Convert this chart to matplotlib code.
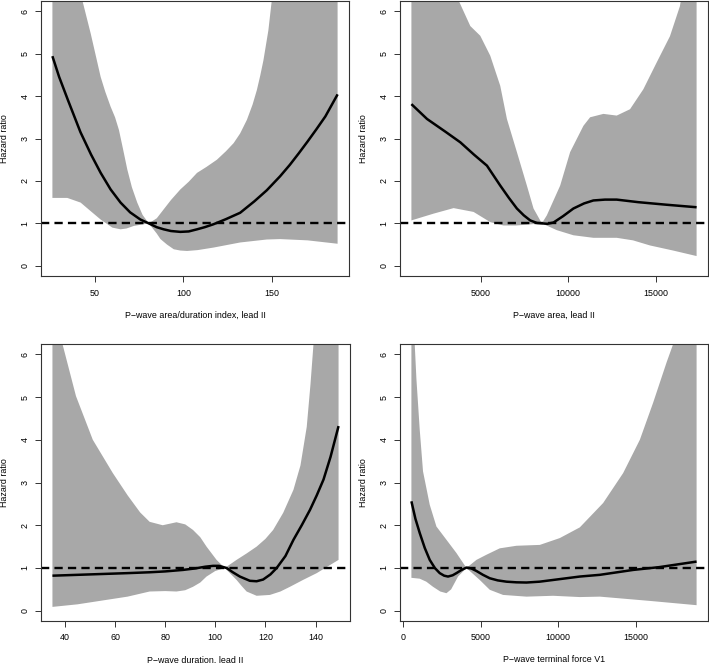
import matplotlib
matplotlib.use("Agg")
import matplotlib.pyplot as plt

plt.rcParams["font.family"] = ["Liberation Sans", "DejaVu Sans"]

# ---- panel 1: P-wave area/duration index, lead II
p1_x = [26.2, 30, 35, 42, 48, 53.4, 59, 64.6, 70, 75.8, 80.5, 85, 88.9, 93, 98.3, 103,
        107.7, 112, 117, 124, 132, 140, 147, 154.5, 160, 165, 170, 175, 180, 186.9]
p1_hr = [4.94, 4.45, 3.9, 3.15, 2.62, 2.19, 1.8, 1.49, 1.26, 1.09, 1.0, 0.91, 0.86, 0.82, 0.80, 0.81,
         0.86, 0.91, 0.98, 1.1, 1.25, 1.52, 1.78, 2.11, 2.38, 2.65, 2.93, 3.22, 3.52, 4.04]
p1_up_x = [26.2, 35, 40, 43.1, 47.8, 53.4, 56, 59, 61.5, 63.7, 66, 68.4, 71, 74, 77, 80.5, 85,
           88.9, 93, 98.3, 103, 107.7, 113, 118.9, 124, 128.3, 132, 135.8, 139, 141.4, 143.3,
           145.1, 147.9, 149.8, 160, 175, 186.9]
p1_up = [9.0, 7.5, 6.8, 6.25, 5.47, 4.45, 4.1, 3.75, 3.5, 3.2, 2.75, 2.27, 1.85, 1.49, 1.2, 1.0, 1.12,
         1.33, 1.55, 1.8, 1.98, 2.19, 2.33, 2.5, 2.7, 2.89, 3.12, 3.44, 3.8, 4.14, 4.48,
         4.84, 5.55, 6.25, 8.5, 12, 16]
p1_lo_x = [26.2, 34.6, 42.1, 48, 53.4, 60, 64.6, 68, 72.1, 80.5, 85, 87.1, 90.8, 94.6, 98.3, 102.1,
           108, 117, 132, 147, 154.5, 170, 186.9]
p1_lo = [1.6, 1.6, 1.49, 1.28, 1.09, 0.9, 0.86, 0.88, 0.94, 1.0, 0.76, 0.63, 0.5, 0.39, 0.36, 0.35,
         0.37, 0.43, 0.55, 0.62, 0.63, 0.6, 0.52]
p1_ticks = [50, 100, 150]

# ---- panel 2: P-wave area, lead II
p2_x = [1019, 1914, 3000, 3819, 4600, 5343, 6105, 6600, 7057, 7450, 7819, 8200, 8500, 8800,
        9152, 9700, 10291, 10900, 11434, 12100, 12771, 14000, 15600, 17343]
p2_hr = [3.81, 3.46, 3.15, 2.91, 2.62, 2.36, 1.89, 1.6, 1.35, 1.19, 1.07, 1.01, 1.0, 0.99,
         1.02, 1.17, 1.35, 1.47, 1.54, 1.56, 1.56, 1.5, 1.44, 1.38]
p2_up_x = [1019, 2000, 3000, 3724, 4390, 4962, 5533, 6105, 6486, 7057, 7629, 8010, 8486, 8772,
           9534, 10105, 10867, 11248, 12010, 12771, 13533, 14295, 15057, 15819, 16390, 17343]
p2_up = [14, 10, 7.5, 6.25, 5.65, 5.42, 4.95, 4.24, 3.46, 2.68, 1.89, 1.35, 1.0, 1.19,
         1.89, 2.68, 3.3, 3.5, 3.58, 3.54, 3.69, 4.16, 4.79, 5.41, 6.12, 8.5]
p2_lo_x = [1019, 2292, 3434, 4577, 5531, 6291, 7000, 7629, 8486, 9343, 10291, 11434, 12771,
           13703, 14674, 16000, 17343]
p2_lo = [1.07, 1.23, 1.36, 1.27, 1.03, 0.95, 0.95, 0.97, 1.0, 0.84, 0.72, 0.66, 0.66,
         0.60, 0.48, 0.36, 0.23]
p2_ticks = [5000, 10000, 15000]

# ---- panel 3: P-wave duration, lead II
p3_x = [35, 45, 55, 65, 73.8, 80, 87.1, 92, 96, 99.1, 101.5, 104.5, 107, 109.8, 113.8, 116.5,
        119.1, 122, 124.5, 128, 131.2, 134.5, 137.8, 140.5, 143.2, 146, 149.2]
p3_hr = [0.82, 0.84, 0.86, 0.88, 0.9, 0.92, 0.955, 0.99, 1.03, 1.05, 1.05, 1.0, 0.9, 0.8, 0.7, 0.69,
         0.73, 0.85, 1.0, 1.28, 1.66, 2.0, 2.36, 2.7, 3.07, 3.6, 4.32]
p3_up_x = [35, 37, 39, 44.4, 51.1, 59.1, 65, 70, 73.8, 79, 84.5, 88, 91.1, 94, 96.5, 100.5, 103.8,
           108.5, 112.5, 116.5, 120, 123.1, 127.1, 131.2, 134, 136.5, 138, 139.2, 144, 149.2]
p3_up = [9, 7.2, 6.24, 5.02, 4.0, 3.22, 2.7, 2.3, 2.08, 2.0, 2.07, 2.02, 1.89, 1.72, 1.5, 1.19, 1.0,
         1.19, 1.34, 1.5, 1.68, 1.89, 2.29, 2.83, 3.4, 4.3, 5.3, 6.24, 10, 16]
p3_lo_x = [35, 45, 55, 65, 73.8, 80, 84.5, 88, 91.1, 94, 96.5, 100, 103.8, 106, 108.5, 110.5, 112.5,
           116.5, 121.8, 126, 129.8, 135, 140.5, 149.2]
p3_lo = [0.09, 0.15, 0.24, 0.33, 0.45, 0.46, 0.45, 0.48, 0.56, 0.66, 0.8, 0.93, 1.0, 0.87, 0.72, 0.58,
         0.45, 0.35, 0.37, 0.45, 0.56, 0.72, 0.88, 1.19]
p3_ticks = [40, 60, 80, 100, 120, 140]

# ---- panel 4: P-wave terminal force V1
p4_x = [541, 800, 1076, 1400, 1721, 2050, 2366, 2650, 2901, 3200, 3442, 3750, 4087, 4400, 4732,
        5150, 5589, 6100, 6665, 7300, 7954, 8800, 9669, 11390, 12679, 14826, 16500, 18912]
p4_hr = [2.56, 2.15, 1.82, 1.47, 1.19, 1.0, 0.88, 0.82, 0.80, 0.83, 0.88, 0.95, 1.01, 0.99, 0.93,
         0.84, 0.76, 0.71, 0.68, 0.665, 0.66, 0.68, 0.72, 0.80, 0.84, 0.955, 1.02, 1.15]
p4_up_x = [541, 650, 754, 864, 1076, 1289, 1721, 2153, 2798, 3442, 4087, 4732, 5376, 6233, 7310,
           8812, 10101, 11390, 12892, 14181, 15258, 16116, 16979, 17404, 18912]
p4_up = [20, 10, 6.24, 5.42, 4.24, 3.26, 2.48, 1.97, 1.66, 1.35, 1.0, 1.19, 1.31, 1.46, 1.52,
         1.54, 1.70, 1.95, 2.52, 3.22, 4.0, 4.87, 5.81, 6.24, 9]
p4_lo_x = [541, 1076, 1500, 1934, 2400, 2798, 3100, 3545, 4087, 4944, 5589, 6446, 7954, 9669,
           11390, 12679, 15903, 18912]
p4_lo = [0.77, 0.75, 0.68, 0.56, 0.45, 0.41, 0.5, 0.8, 1.0, 0.72, 0.49, 0.37, 0.33, 0.35,
         0.32, 0.33, 0.23, 0.13]
p4_ticks = [0, 5000, 10000, 15000]

labels = ["P\u2212wave area/duration index, lead II", "P\u2212wave area, lead II",
          "P\u2212wave duration, lead II", "P\u2212wave terminal force V1"]
y_ticks = [0, 1, 2, 3, 4, 5, 6]

fig = plt.figure(figsize=(7.09, 6.63), dpi=100)
W, H = 709, 663
boxes = [(41, 1, 349, 276), (400, 1, 708, 276), (41, 344, 350, 621), (400, 344, 708, 621)]

panels = [
    (p1_x, p1_hr, p1_up_x, p1_up, p1_lo_x, p1_lo, p1_ticks),
    (p2_x, p2_hr, p2_up_x, p2_up, p2_lo_x, p2_lo, p2_ticks),
    (p3_x, p3_hr, p3_up_x, p3_up, p3_lo_x, p3_lo, p3_ticks),
    (p4_x, p4_hr, p4_up_x, p4_up, p4_lo_x, p4_lo, p4_ticks),
]

fs = 6.4
for (x0, y0, x1, y1), (x, hr, ux, up, lx, lo, xt), lab in zip(boxes, panels, labels):
    w, h = x1 - x0, y1 - y0
    ax = fig.add_axes([x0 / W, 1 - y1 / H, w / W, h / H])
    # confidence band as polygon: upper bound, then lower bound reversed
    ax.fill(list(ux) + list(lx)[::-1], list(up) + list(lo)[::-1],
            color="#a8a8a8", lw=0, zorder=1)
    ax.plot(x, hr, color="black", lw=1.8, zorder=3, solid_capstyle="butt")
    ax.axhline(1, color="black", lw=1.7, dashes=(3.5, 2.2), zorder=2)
    pad = 0.04 * (max(x) - min(x))
    ax.set_xlim(min(x) - pad, max(x) + pad)
    ax.set_ylim(-0.24, 6.24)
    ax.set_xticks(xt)
    ax.set_xticklabels([str(t) for t in xt])
    ax.set_yticks(y_ticks)
    ax.set_yticklabels([str(t) for t in y_ticks], rotation=90, va="center", ha="center")
    ax.tick_params(axis="x", length=4, width=0.7, color="#333333", labelsize=fs, pad=5)
    ax.tick_params(axis="y", length=4, width=0.7, color="#333333", labelsize=fs, pad=7.5)
    for s in ax.spines.values():
        s.set_linewidth(0.8)
        s.set_color("#333333")
    ax.set_xlabel(lab, fontsize=fs)
    ax.set_ylabel("Hazard ratio", fontsize=fs)
    ax.xaxis.set_label_coords(0.5, -39 / h, transform=ax.transAxes)
    ax.yaxis.set_label_coords(-36 / w, 0.5, transform=ax.transAxes)
    ax.xaxis.label.set_va("center")
    ax.yaxis.label.set_va("center")

fig.savefig("out.png", dpi=100)
